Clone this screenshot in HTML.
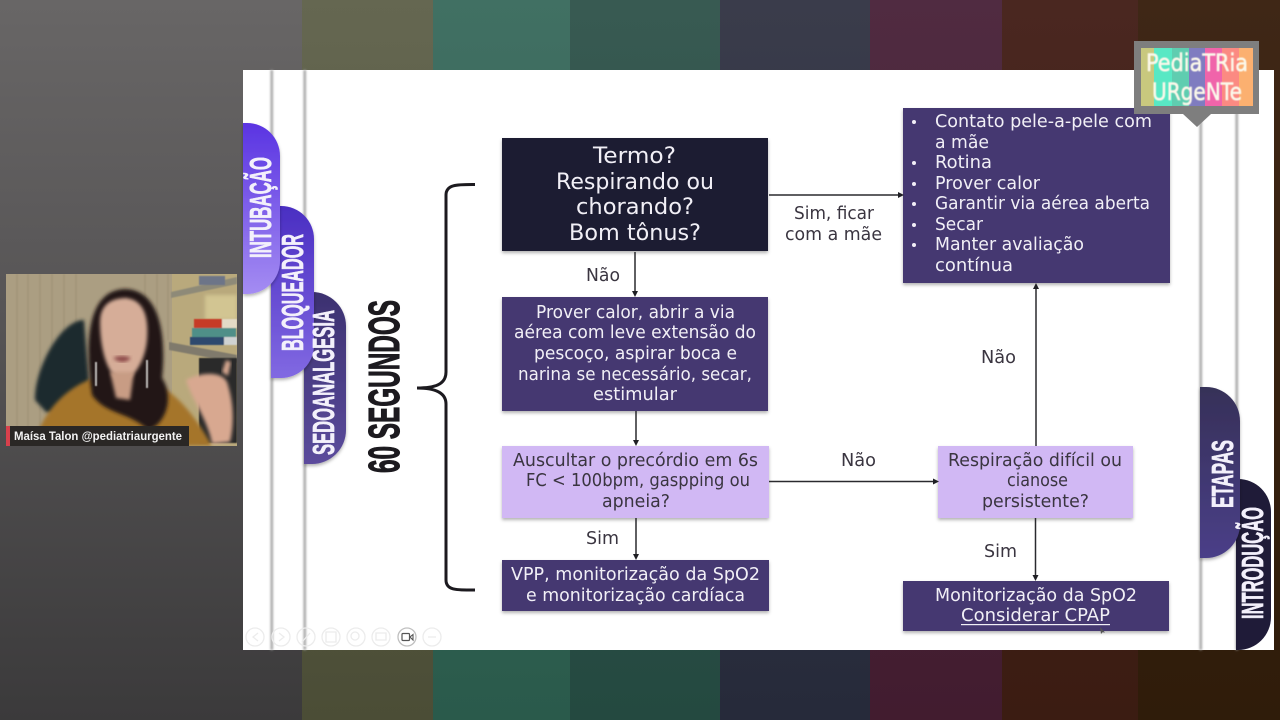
<!DOCTYPE html>
<html lang="pt">
<head>
<meta charset="utf-8">
<title>60 segundos</title>
<style>
html,body{margin:0;padding:0;background:#333;width:1280px;height:720px;overflow:hidden}
svg{display:block}
.b{font-family:"DejaVu Sans","Liberation Sans",sans-serif;font-size:17.5px}
.w{fill:#f1eff6}
.d{fill:#3a3540}
.c{font-family:"Liberation Sans",sans-serif;font-weight:700;fill:#f3f0fb;stroke:#f3f0fb;stroke-width:.7}
</style>
</head>
<body>
<svg width="1280" height="720" viewBox="0 0 1280 720" xmlns="http://www.w3.org/2000/svg">
<defs>
<linearGradient id="gl" x1="0" y1="0" x2="0" y2="1"><stop offset="0" stop-color="#686666"/><stop offset=".45" stop-color="#565455"/><stop offset="1" stop-color="#3b3a3b"/></linearGradient>
<linearGradient id="g1" x1="0" y1="0" x2="0" y2="1"><stop offset="0" stop-color="#656751"/><stop offset="1" stop-color="#4b4d36"/></linearGradient>
<linearGradient id="g2" x1="0" y1="0" x2="0" y2="1"><stop offset="0" stop-color="#417063"/><stop offset="1" stop-color="#2a5a4b"/></linearGradient>
<linearGradient id="g3" x1="0" y1="0" x2="0" y2="1"><stop offset="0" stop-color="#385a52"/><stop offset="1" stop-color="#244940"/></linearGradient>
<linearGradient id="g4" x1="0" y1="0" x2="0" y2="1"><stop offset="0" stop-color="#3a3c4b"/><stop offset="1" stop-color="#262a3a"/></linearGradient>
<linearGradient id="g5" x1="0" y1="0" x2="0" y2="1"><stop offset="0" stop-color="#502b41"/><stop offset="1" stop-color="#421c2f"/></linearGradient>
<linearGradient id="g6" x1="0" y1="0" x2="0" y2="1"><stop offset="0" stop-color="#4a2720"/><stop offset="1" stop-color="#3b1c12"/></linearGradient>
<linearGradient id="g7" x1="0" y1="0" x2="0" y2="1"><stop offset="0" stop-color="#3f2716"/><stop offset="1" stop-color="#2f1c0a"/></linearGradient>
<linearGradient id="t1" x1="0" y1="0" x2="0" y2="1"><stop offset="0" stop-color="#5a34e2"/><stop offset="1" stop-color="#a48cf2"/></linearGradient>
<linearGradient id="t2" x1="0" y1="0" x2="0" y2="1"><stop offset="0" stop-color="#4a2ec2"/><stop offset="1" stop-color="#8169e2"/></linearGradient>
<linearGradient id="t3" x1="0" y1="0" x2="0" y2="1"><stop offset="0" stop-color="#3c3170"/><stop offset="1" stop-color="#5b4b9c"/></linearGradient>
<linearGradient id="t4" x1="0" y1="0" x2="0" y2="1"><stop offset="0" stop-color="#363058"/><stop offset="1" stop-color="#4a3f88"/></linearGradient>
<filter id="s" x="-10%" y="-10%" width="120%" height="125%"><feDropShadow dx="0" dy="2" stdDeviation="1.600" flood-color="#000" flood-opacity=".3"/></filter>
<filter id="bl"><feGaussianBlur stdDeviation="1.800"/></filter>
<filter id="soft"><feGaussianBlur stdDeviation=".5"/></filter>
<filter id="ln"><feGaussianBlur stdDeviation="1"/></filter>
<clipPath id="cam"><rect x="6" y="274" width="231" height="172"/></clipPath>
</defs>

<!-- background -->
<rect width="302" height="720" fill="url(#gl)"/>
<rect x="302" width="131" height="720" fill="url(#g1)"/>
<rect x="433" width="137" height="720" fill="url(#g2)"/>
<rect x="570" width="150" height="720" fill="url(#g3)"/>
<rect x="720" width="150" height="720" fill="url(#g4)"/>
<rect x="870" width="132" height="720" fill="url(#g5)"/>
<rect x="1002" width="136" height="720" fill="url(#g6)"/>
<rect x="1138" width="142" height="720" fill="url(#g7)"/>

<!-- slide -->
<rect x="243" y="70" width="1031" height="580" fill="#fff"/>
<g filter="url(#ln)" fill="#a4a4a4">
<rect x="270.500" y="70" width="2.500" height="580"/>
<rect x="303.500" y="70" width="2.500" height="580"/>
<rect x="1199.500" y="70" width="2.500" height="580"/>
<rect x="1235.500" y="70" width="2.500" height="580"/>
</g>

<!-- left tabs -->
<path d="M304 292h8a34 34 0 0 1 34 34v104a34 34 0 0 1-34 34h-8z" fill="url(#t3)" filter="url(#s)"/>
<path d="M271 206h10a33 33 0 0 1 33 33v106a33 33 0 0 1-33 33h-10z" fill="url(#t2)" filter="url(#s)"/>
<path d="M243 123h4a33 33 0 0 1 33 33v105a33 33 0 0 1-33 33h-4z" fill="url(#t1)" filter="url(#s)"/>
<text class="c" font-size="31" textLength="101" lengthAdjust="spacingAndGlyphs" transform="translate(271,258) rotate(-90)">INTUBAÇÃO</text>
<text class="c" font-size="31" textLength="117" lengthAdjust="spacingAndGlyphs" transform="translate(303,351) rotate(-90)">BLOQUEADOR</text>
<text class="c" font-size="31" textLength="145" lengthAdjust="spacingAndGlyphs" transform="translate(334,455) rotate(-90)">SEDOANALGESIA</text>

<!-- right tabs -->
<path d="M1236 479h2a33 33 0 0 1 33 33v105a33 33 0 0 1-33 33h-2z" fill="#1f1b38"/>
<path d="M1200 387h6a34 34 0 0 1 34 34v103a34 34 0 0 1-34 34h-6z" fill="url(#t4)" filter="url(#s)"/>
<text class="c" font-size="31" textLength="68" lengthAdjust="spacingAndGlyphs" transform="translate(1233,508) rotate(-90)">ETAPAS</text>
<text class="c" font-size="31" textLength="112" lengthAdjust="spacingAndGlyphs" transform="translate(1263,619) rotate(-90)">INTRODUÇÃO</text>

<!-- 60 segundos + bracket -->
<text font-family="Liberation Sans,sans-serif" font-weight="700" font-size="44" fill="#1c1a1f" stroke="#1c1a1f" stroke-width="1.100" textLength="173" lengthAdjust="spacingAndGlyphs" transform="translate(399,473) rotate(-90)">60 SEGUNDOS</text>
<path d="M475 184.500C458 184.500 446 184 446 195V372C446 385 434 388 417 388C434 388 446 392 446 404V580C446 591 458 590 475 590" fill="none" stroke="#1c1a1f" stroke-width="3"/>

<!-- boxes -->
<g filter="url(#s)">
<rect x="502" y="138" width="266" height="113" fill="#1f1a33"/>
<rect x="502" y="297" width="266" height="114" fill="#443771"/>
<rect x="502" y="446" width="267" height="72" fill="#d1b8f4"/>
<rect x="502" y="560" width="267" height="51" fill="#443771"/>
<rect x="903" y="108" width="267" height="175" fill="#443771"/>
<rect x="938" y="446" width="195" height="72" fill="#d1b8f4"/>
<rect x="903" y="581" width="266" height="50" fill="#443771"/>
</g>

<!-- connectors -->
<g stroke="#2a2a2e" stroke-width="1.500" fill="none">
<path d="M769 195H899"/>
<path d="M635 252V293"/>
<path d="M636 411V442"/>
<path d="M636 518V556"/>
<path d="M769 481.500H934"/>
<path d="M1035.500 518V577"/>
<path d="M1036 446V288"/>
</g>
<g fill="#1f1f24">
<path d="M904 195l-6-3v6z"/>
<path d="M635 297l-3-6h6z"/>
<path d="M636 446l-3-6h6z"/>
<path d="M636 560l-3-6h6z"/>
<path d="M939 481.500l-6-3v6z"/>
<path d="M1035.500 581l-3-6h6z"/>
<path d="M1036 283l-3 6h6z"/>
</g>

<!-- box 1 text -->
<g class="b w" style="font-size:22.500px">
<text x="593" y="163" textLength="83" lengthAdjust="spacingAndGlyphs">Termo?</text>
<text x="556" y="189" textLength="158" lengthAdjust="spacingAndGlyphs">Respirando ou</text>
<text x="576" y="214" textLength="118" lengthAdjust="spacingAndGlyphs">chorando?</text>
<text x="569" y="240" textLength="132" lengthAdjust="spacingAndGlyphs">Bom tônus?</text>
</g>
<!-- box 2 -->
<g class="b w">
<text x="536" y="318" textLength="199" lengthAdjust="spacingAndGlyphs">Prover calor, abrir a via</text>
<text x="514" y="338" textLength="242" lengthAdjust="spacingAndGlyphs">aérea com leve extensão do</text>
<text x="534" y="359" textLength="203" lengthAdjust="spacingAndGlyphs">pescoço, aspirar boca e</text>
<text x="518" y="380" textLength="234" lengthAdjust="spacingAndGlyphs">narina se necessário, secar,</text>
<text x="593" y="400" textLength="84" lengthAdjust="spacingAndGlyphs">estimular</text>
</g>
<!-- box 3 -->
<g class="b d">
<text x="513" y="466" textLength="245" lengthAdjust="spacingAndGlyphs">Auscultar o precórdio em 6s</text>
<text x="526" y="486" textLength="224" lengthAdjust="spacingAndGlyphs">FC &lt; 100bpm, gaspping ou</text>
<text x="602" y="507" textLength="68" lengthAdjust="spacingAndGlyphs">apneia?</text>
</g>
<!-- box 4 -->
<g class="b w">
<text x="511" y="580" textLength="249" lengthAdjust="spacingAndGlyphs">VPP, monitorização da SpO2</text>
<text x="526" y="601" textLength="219" lengthAdjust="spacingAndGlyphs">e monitorização cardíaca</text>
</g>
<!-- top right -->
<g class="b w">
<text x="935" y="127" textLength="217" lengthAdjust="spacingAndGlyphs">Contato pele-a-pele com</text>
<text x="935" y="148" textLength="54" lengthAdjust="spacingAndGlyphs">a mãe</text>
<text x="935" y="168" textLength="57" lengthAdjust="spacingAndGlyphs">Rotina</text>
<text x="935" y="189" textLength="105" lengthAdjust="spacingAndGlyphs">Prover calor</text>
<text x="935" y="209" textLength="215" lengthAdjust="spacingAndGlyphs">Garantir via aérea aberta</text>
<text x="935" y="230" textLength="48" lengthAdjust="spacingAndGlyphs">Secar</text>
<text x="935" y="250" textLength="149" lengthAdjust="spacingAndGlyphs">Manter avaliação</text>
<text x="935" y="271" textLength="78" lengthAdjust="spacingAndGlyphs">contínua</text>
</g>
<g fill="#f1eff6">
<circle cx="914" cy="122" r="2"/><circle cx="914" cy="163" r="2"/><circle cx="914" cy="184" r="2"/><circle cx="914" cy="204" r="2"/><circle cx="914" cy="225" r="2"/><circle cx="914" cy="245" r="2"/>
</g>
<!-- mid right -->
<g class="b d">
<text x="948" y="466" textLength="174" lengthAdjust="spacingAndGlyphs">Respiração difícil ou</text>
<text x="1007" y="486" textLength="61" lengthAdjust="spacingAndGlyphs">cianose</text>
<text x="982" y="507" textLength="107" lengthAdjust="spacingAndGlyphs">persistente?</text>
</g>
<!-- bottom right -->
<g class="b w">
<text x="935" y="601" textLength="202" lengthAdjust="spacingAndGlyphs">Monitorização da SpO2</text>
<text x="961" y="621" textLength="149" lengthAdjust="spacingAndGlyphs">Considerar CPAP</text>
</g>
<rect x="961" y="624" width="149" height="1.200" fill="#f1eff6"/>
<!-- labels -->
<g class="b d">
<text x="794" y="219" textLength="80" lengthAdjust="spacingAndGlyphs">Sim, ficar</text>
<text x="785" y="240" textLength="97" lengthAdjust="spacingAndGlyphs">com a mãe</text>
<text x="586" y="281" textLength="34" lengthAdjust="spacingAndGlyphs">Não</text>
<text x="981" y="363" textLength="35" lengthAdjust="spacingAndGlyphs">Não</text>
<text x="841" y="466" textLength="35" lengthAdjust="spacingAndGlyphs">Não</text>
<text x="586" y="544" textLength="33" lengthAdjust="spacingAndGlyphs">Sim</text>
<text x="984" y="557" textLength="33" lengthAdjust="spacingAndGlyphs">Sim</text>
</g>
<path d="M1100 627l1 7 1.500-1.800 2.500.3z" fill="#555"/>

<!-- slideshow controls -->
<g fill="none" stroke="#ececec" stroke-width="1.300">
<circle cx="255" cy="637" r="9"/><circle cx="281" cy="637" r="9"/><circle cx="306" cy="637" r="9"/><circle cx="331" cy="637" r="9"/><circle cx="356" cy="637" r="9"/><circle cx="381" cy="637" r="9"/><circle cx="432" cy="637" r="9"/>
<path d="M258 633l-5 4 5 4M279 633l5 4-5 4M302 642l8-9M326 632h10v10h-10zM376 633h10v7h-10zM428 637h8"/>
<circle cx="355" cy="636" r="4"/>
<circle cx="407" cy="637" r="9" stroke="#c0c0c0"/>
</g>
<rect x="402" y="633.500" width="7.500" height="7" rx="1" fill="none" stroke="#555" stroke-width="1.200"/>
<path d="M410 637l3-2.500v5.500z" fill="none" stroke="#555" stroke-width="1.100"/>

<!-- logo -->
<rect x="1134" y="41" width="125" height="73" fill="#7e7e7e"/>
<path d="M1183 114h28l-14 13z" fill="#7e7e7e"/>
<g>
<rect x="1141" y="48" width="13" height="58" fill="#c8c87e"/>
<rect x="1154" y="48" width="18" height="58" fill="#58e8c4"/>
<rect x="1172" y="48" width="17" height="58" fill="#5fcdb0"/>
<rect x="1189" y="48" width="16" height="58" fill="#7f7cc0"/>
<rect x="1205" y="48" width="17" height="58" fill="#f064aa"/>
<rect x="1222" y="48" width="17" height="58" fill="#fb8a82"/>
<rect x="1239" y="48" width="14" height="58" fill="#fbb070"/>
</g>
<g font-family="DejaVu Sans,sans-serif" fill="#fbf8ea" stroke="#fbf8ea" stroke-width=".6" filter="url(#soft)">
<text x="1146" y="71" font-size="24" textLength="102" lengthAdjust="spacingAndGlyphs">PediaTRia</text>
<text x="1152" y="100" font-size="24" textLength="90" lengthAdjust="spacingAndGlyphs">URgeNTe</text>
</g>

<!-- webcam -->
<g clip-path="url(#cam)">
<rect x="6" y="274" width="231" height="172" fill="#ab9e82"/>
<g stroke="#95886e" stroke-width="1.500" opacity=".45" filter="url(#soft)">
<path d="M17 274V446M28 274V446M40 274V446M52 274V446M64 274V446M76 274V446M145 274V340M157 274V340M168 274V340"/>
</g>
<rect x="172" y="274" width="65" height="172" fill="#b9a97c"/>
<rect x="205" y="295" width="32" height="25" fill="#d2c592" filter="url(#bl)"/>
<path d="M171 292L237 277V284L171 298z" fill="#8e8a78" filter="url(#soft)"/>
<path d="M169 342L237 355V363L169 350z" fill="#807a6c" filter="url(#soft)"/>
<g filter="url(#soft)">
<rect x="194" y="319" width="42" height="9" fill="#c63a26"/>
<rect x="222" y="319" width="15" height="9" fill="#e3dac6"/>
<rect x="192" y="328" width="44" height="9" fill="#4f8f88"/>
<rect x="190" y="337" width="46" height="8" fill="#2f4a6e"/>
<rect x="224" y="337" width="13" height="8" fill="#cfd2d2"/>
<rect x="199" y="276" width="26" height="9" fill="#6d7488"/>
<rect x="199" y="358" width="38" height="85" fill="#2a2a2c"/>
</g>
<path d="M35 400C34 370 60 320 84 320L92 420L46 412z" fill="#1e2a2e" filter="url(#bl)"/>
<path d="M33 446C46 400 80 376 120 372C165 376 192 410 212 446z" fill="#a5752a" filter="url(#bl)"/>
<path d="M92 395C84 340 88 290 125 289C162 290 166 340 162 378C175 398 165 425 148 430C130 412 106 415 92 395z" fill="#211714" filter="url(#bl)"/>
<path d="M100 322C100 302 115 298 126 298C143 300 149 315 147 340C145 362 133 380 122 380C108 378 100 350 100 322z" fill="#d6ad98" filter="url(#bl)"/>
<path d="M110 372L134 372L130 400L116 398z" fill="#c89c84" filter="url(#bl)"/>
<path d="M113 358q9-4 18 0q-8 8-18 0z" fill="#8d4a48" filter="url(#bl)"/>
<path d="M105 334h12M131 334h12" stroke="#5a3c34" stroke-width="2" filter="url(#bl)"/>
<path d="M96 362V386M147 360V388" stroke="#bdbab8" stroke-width="2" filter="url(#soft)"/>
<path d="M186 380C200 372 225 370 228 385C234 405 234 425 230 442L212 444C208 420 192 400 186 380z" fill="#d8a890" filter="url(#bl)"/>
<path d="M222 372l4-12 5 2-3 14z" fill="#d8a890" filter="url(#bl)"/>
</g>
<rect x="6" y="426" width="183" height="20" fill="#2a2725"/>
<rect x="6" y="426" width="4" height="20" fill="#d8404c"/>
<text x="14" y="440" font-family="Liberation Sans,sans-serif" font-weight="700" font-size="12" fill="#f2f2f2" textLength="168" lengthAdjust="spacingAndGlyphs">Maísa Talon @pediatriaurgente</text>
</svg>
</body>
</html>
